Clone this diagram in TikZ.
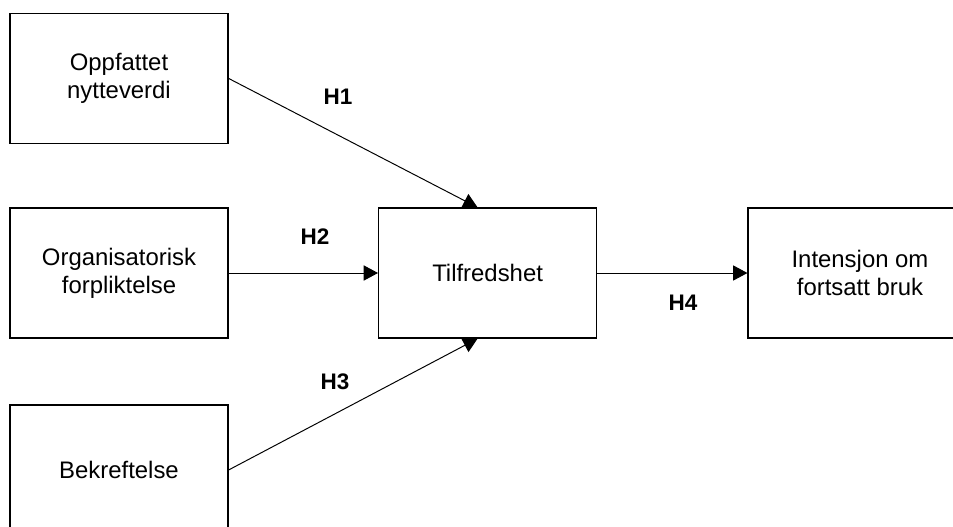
\documentclass[tikz,border=0pt]{standalone}
\usepackage{fontspec}
\setmainfont{Liberation Sans}
\usetikzlibrary{arrows.meta}
\begin{document}
\begin{tikzpicture}[every node/.style={font=\fontsize{17}{20}\selectfont},
  konstrukt/.style={draw,line width=0.8pt,minimum width=5.45cm,minimum height=3.25cm,align=center},
  hyp/.style={font=\fontsize{16}{19}\selectfont\bfseries},
  pil/.style={line width=0.7pt,-{Triangle[length=0.36cm,width=0.38cm]}}]
\useasboundingbox (0,0) rectangle (23.825,13.15);
% konstrukter
\node[konstrukt] (nytte) at (2.975,11.19) {Oppfattet\\nytteverdi};
\node[konstrukt] (forpl) at (2.975,6.325) {Organisatorisk\\forpliktelse};
\node[konstrukt] (bekr) at (2.975,1.4) {Bekreftelse};
\node[konstrukt] (tilf) at (12.19,6.325) {Tilfredshet};
\node[konstrukt,minimum width=5.6cm] (intens) at (21.5,6.325) {Intensjon om\\fortsatt bruk};
% hypoteser
\draw[pil] (nytte.east) -- ([xshift=-0.25cm]tilf.north);
\draw[pil] (forpl.east) -- (tilf.west);
\draw[pil] (bekr.east) -- ([xshift=-0.25cm]tilf.south);
\draw[pil] (tilf.east) -- (intens.west);
\node[hyp] (h1) at (8.45,10.725) {H1};
\node[hyp] (h2) at (7.875,7.225) {H2};
\node[hyp] (h3) at (8.375,3.6) {H3};
\node[hyp] (h4) at (17.075,5.575) {H4};
\end{tikzpicture}
\end{document}
